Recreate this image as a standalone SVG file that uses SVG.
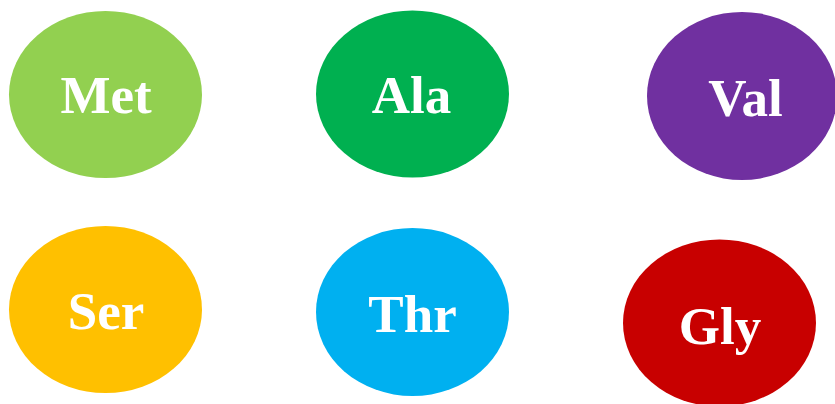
<svg xmlns="http://www.w3.org/2000/svg" width="835" height="404" viewBox="0 0 835 404">
<style>
.lbl{font-family:"Liberation Serif","Times New Roman",serif;font-weight:bold;font-size:53px;fill:#fff;text-anchor:middle}
</style>
<rect width="835" height="404" fill="#fff"/>
<g id="met"><ellipse cx="105.5" cy="94.5" rx="96.5" ry="83.5" fill="#92D050"/><text class="lbl" x="106" y="113">Met</text></g>
<g id="ala"><ellipse cx="412.5" cy="94" rx="96.5" ry="83.5" fill="#00B050"/><text class="lbl" x="411.5" y="113">Ala</text></g>
<g id="val"><ellipse cx="742" cy="96" rx="95" ry="84" fill="#7030A0"/><text class="lbl" x="745.5" y="116">Val</text></g>
<g id="ser"><ellipse cx="105.5" cy="309.5" rx="96.5" ry="83.5" fill="#FFC000"/><text class="lbl" x="106" y="329">Ser</text></g>
<g id="thr"><ellipse cx="412.5" cy="312" rx="96.5" ry="84" fill="#00B0F0"/><text class="lbl" x="412.5" y="332">Thr</text></g>
<g id="gly"><ellipse cx="719.5" cy="323" rx="96.5" ry="83.5" fill="#C80000"/><text class="lbl" x="720" y="344">Gly</text></g>
<g id="connectors"/>
</svg>
